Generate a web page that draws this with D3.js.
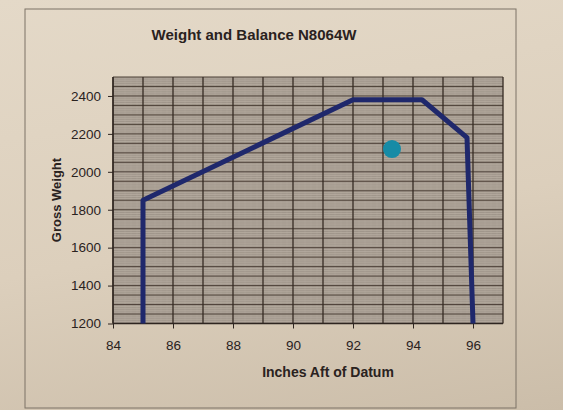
<!DOCTYPE html>
<html>
<head>
<meta charset="utf-8">
<script src="https://cdn.jsdelivr.net/npm/d3@7"></script>
<style>
  html, body { margin: 0; padding: 0; }
  body { width: 563px; height: 410px; overflow: hidden;
         background: linear-gradient(170deg, #e4d9c8 0%, #dccfbc 55%, #cbbda9 100%); }
  svg { display: block; }
  text { font-family: "Liberation Sans", Arial, sans-serif; fill: #2a221e; }
</style>
</head>
<body>
<svg id="chart" width="563" height="410"></svg>
<script>
// ---- data ----
const chartTitle = "Weight and Balance N8064W";
const xTitle = "Inches Aft of Datum";
const yTitle = "Gross Weight";
const xTickValues = [84, 86, 88, 90, 92, 94, 96];
const yTickValues = [1200, 1400, 1600, 1800, 2000, 2200, 2400];
// CG envelope (inches aft of datum, gross weight)
const envelopeArm = [85.0, 85.0, 92.0, 94.3, 95.8, 96.0];
const envelopeWeight = [1200, 1850, 2380, 2380, 2180, 1200];
// loaded aircraft point
const pointArm = [93.3];
const pointWeight = [2120];

const xDomain = [84, 97];
const yDomain = [1200, 2500];

// ---- layout ----
const svg = d3.select("#chart");
const plot = { left: 113, right: 503, top: 77, bottom: 323.5 };

const x = d3.scaleLinear().domain(xDomain).range([plot.left, plot.right]);
const y = d3.scaleLinear().domain(yDomain).range([plot.bottom, plot.top]);

// outer chart border
svg.append("rect")
  .attr("x", 25).attr("y", 9).attr("width", 491).attr("height", 399)
  .attr("fill", "none").attr("stroke", "#7d7366").attr("stroke-width", 1);

// plot background
svg.append("rect")
  .attr("x", plot.left).attr("y", plot.top)
  .attr("width", plot.right - plot.left).attr("height", plot.bottom - plot.top)
  .attr("fill", "#a0968b");

const grid = svg.append("g");
// minor horizontal (every 10)
grid.selectAll("line.hmin")
  .data(d3.range(yDomain[0], yDomain[1] + 1, 10))
  .join("line")
  .attr("x1", plot.left).attr("x2", plot.right)
  .attr("y1", d => y(d)).attr("y2", d => y(d))
  .attr("stroke", "#d2c8bc").attr("stroke-width", 0.7).attr("opacity", 0.5);
// minor vertical (every 0.2)
grid.selectAll("line.vmin")
  .data(d3.range(xDomain[0], xDomain[1] + 0.001, 0.2))
  .join("line")
  .attr("x1", d => x(d)).attr("x2", d => x(d))
  .attr("y1", plot.top).attr("y2", plot.bottom)
  .attr("stroke", "#c4baae").attr("stroke-width", 0.6).attr("opacity", 0.3);
// major horizontal (every 50)
grid.selectAll("line.hmaj")
  .data(d3.range(yDomain[0], yDomain[1] + 1, 50))
  .join("line")
  .attr("x1", plot.left).attr("x2", plot.right)
  .attr("y1", d => y(d)).attr("y2", d => y(d))
  .attr("stroke", "#4e4239").attr("stroke-width", 1);
// major vertical (every 1)
grid.selectAll("line.vmaj")
  .data(d3.range(xDomain[0], xDomain[1] + 0.001, 1))
  .join("line")
  .attr("x1", d => x(d)).attr("x2", d => x(d))
  .attr("y1", plot.top).attr("y2", plot.bottom)
  .attr("stroke", "#352a23").attr("stroke-width", 1.3);

// axes
const xAxis = d3.axisBottom(x).tickValues(xTickValues).tickSize(5).tickPadding(12)
  .tickFormat(d3.format("d"));
const yAxis = d3.axisLeft(y).tickValues(yTickValues).tickSize(5).tickPadding(7)
  .tickFormat(d3.format("d"));

const gx = svg.append("g").attr("transform", `translate(0,${plot.bottom})`).call(xAxis);
const gy = svg.append("g").attr("transform", `translate(${plot.left},0)`).call(yAxis);
[gx, gy].forEach(g => {
  g.select(".domain").attr("stroke", "#2e2520").attr("stroke-width", 1.3);
  g.selectAll(".tick line").attr("stroke", "#2e2520");
  g.selectAll(".tick text").attr("font-size", 13.5).attr("fill", "#2a221e")
    .attr("font-family", "'Liberation Sans', Arial, sans-serif");
});
gx.select(".domain").attr("d", `M${plot.left},0H${plot.right}`);
gy.select(".domain").attr("d", `M0,${plot.bottom}V${plot.top}`);

// envelope line
const envData = envelopeArm.map((a, i) => [a, envelopeWeight[i]]);
svg.append("path")
  .datum(envData)
  .attr("d", d3.line().x(d => x(d[0])).y(d => y(d[1])))
  .attr("fill", "none")
  .attr("stroke", "#1f286c")
  .attr("stroke-width", 5)
  .attr("stroke-linejoin", "round");

// loaded point
svg.selectAll("circle.pt")
  .data(pointArm.map((a, i) => [a, pointWeight[i]]))
  .join("circle")
  .attr("cx", d => x(d[0])).attr("cy", d => y(d[1]))
  .attr("r", 9)
  .attr("fill", "#168ba6");

// titles
svg.append("text")
  .attr("x", 254).attr("y", 40)
  .attr("text-anchor", "middle")
  .attr("font-size", 15).attr("font-weight", "bold")
  .text(chartTitle);

svg.append("text")
  .attr("x", 328).attr("y", 377)
  .attr("text-anchor", "middle")
  .attr("font-size", 14).attr("font-weight", "bold")
  .text(xTitle);

svg.append("text")
  .attr("transform", `translate(61,200) rotate(-90)`)
  .attr("text-anchor", "middle")
  .attr("font-size", 13).attr("font-weight", "bold")
  .text(yTitle);
</script>
</body>
</html>
